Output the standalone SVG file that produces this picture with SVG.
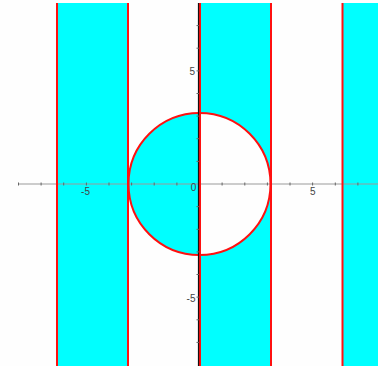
<svg xmlns="http://www.w3.org/2000/svg" width="378" height="366" viewBox="0 0 378 366">
<style>
.red{stroke:#ff1010;stroke-width:2;fill:none}
.tick{stroke:#666;stroke-width:1}
.lbl{font-family:"Liberation Sans",Arial,sans-serif;font-size:10px;fill:#444}
</style>
<rect width="378" height="366" fill="#fefefe"/>
<path fill="#00ffff" fill-rule="evenodd" d="M57,3H128V366H57Z M199.5,3H271V366H199.5Z M342,3H378V366H342Z M128.5,184a71,71 0 1,0 142,0a71,71 0 1,0 -142,0Z"/>
<g id="xaxis">
<line x1="18" y1="184" x2="378" y2="184" stroke="#999" stroke-width="1.2"/>
<g class="tick">
<line x1="18.5" y1="182.5" x2="18.5" y2="185.5"/>
<line x1="41.1" y1="182.5" x2="41.1" y2="185.5"/>
<line x1="63.7" y1="182.5" x2="63.7" y2="185.5"/>
<line x1="86.4" y1="182.5" x2="86.4" y2="185.5"/>
<line x1="109" y1="182.5" x2="109" y2="185.5"/>
<line x1="131.6" y1="182.5" x2="131.6" y2="185.5"/>
<line x1="154.2" y1="182.5" x2="154.2" y2="185.5"/>
<line x1="176.9" y1="182.5" x2="176.9" y2="185.5"/>
<line x1="222.1" y1="182.5" x2="222.1" y2="185.5"/>
<line x1="244.8" y1="182.5" x2="244.8" y2="185.5"/>
<line x1="267.4" y1="182.5" x2="267.4" y2="185.5"/>
<line x1="290" y1="182.5" x2="290" y2="185.5"/>
<line x1="312.6" y1="182.5" x2="312.6" y2="185.5"/>
<line x1="335.3" y1="182.5" x2="335.3" y2="185.5"/>
<line x1="357.9" y1="182.5" x2="357.9" y2="185.5"/>
</g>
</g>
<g id="borders">
<line class="red" x1="57" y1="3" x2="57" y2="366"/>
<line class="red" x1="128" y1="3" x2="128" y2="366"/>
<line class="red" x1="200" y1="3" x2="200" y2="366"/>
<line class="red" x1="271" y1="3" x2="271" y2="366"/>
<line class="red" x1="342.5" y1="3" x2="342.5" y2="366"/>
<circle class="red" cx="199.5" cy="184" r="71"/>
</g>
<g id="yaxis">
<line x1="198.5" y1="3" x2="198.5" y2="366" stroke="#111" stroke-width="1.2"/>
<g class="tick">
<line x1="196.5" y1="25.6" x2="199" y2="25.6"/>
<line x1="196.5" y1="48.2" x2="199" y2="48.2"/>
<line x1="196.5" y1="70.9" x2="199" y2="70.9"/>
<line x1="196.5" y1="93.5" x2="199" y2="93.5"/>
<line x1="196.5" y1="116.1" x2="199" y2="116.1"/>
<line x1="196.5" y1="138.7" x2="199" y2="138.7"/>
<line x1="196.5" y1="161.4" x2="199" y2="161.4"/>
<line x1="196.5" y1="206.6" x2="199" y2="206.6"/>
<line x1="196.5" y1="229.3" x2="199" y2="229.3"/>
<line x1="196.5" y1="251.9" x2="199" y2="251.9"/>
<line x1="196.5" y1="274.5" x2="199" y2="274.5"/>
<line x1="196.5" y1="297.1" x2="199" y2="297.1"/>
<line x1="196.5" y1="319.8" x2="199" y2="319.8"/>
<line x1="196.5" y1="342.4" x2="199" y2="342.4"/>
</g>
</g>
<g id="labels">
<text class="lbl" x="85.5" y="194.5" text-anchor="middle">-5</text>
<text class="lbl" x="193.5" y="190.5" text-anchor="middle">0</text>
<text class="lbl" x="312.8" y="194.5" text-anchor="middle">5</text>
<text class="lbl" x="195" y="74.5" text-anchor="end">5</text>
<text class="lbl" x="195.5" y="301.5" text-anchor="end">-5</text>
</g>
</svg>
